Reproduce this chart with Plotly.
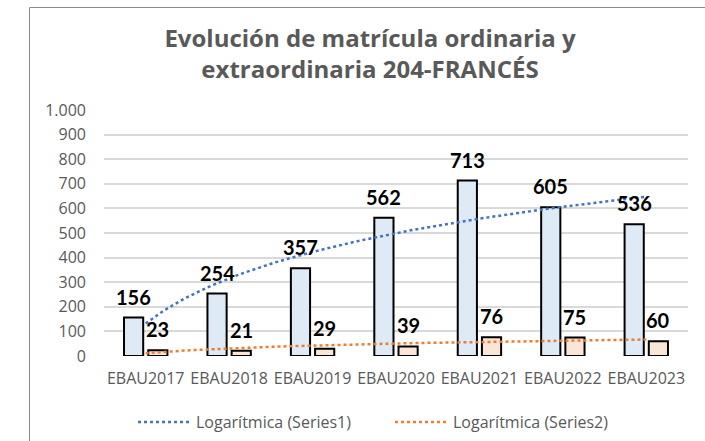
import numpy as np
import plotly.graph_objects as go

categories = ["EBAU2017", "EBAU2018", "EBAU2019", "EBAU2020", "EBAU2021", "EBAU2022", "EBAU2023"]
ordinaria = [156, 254, 357, 562, 713, 605, 536]
extraordinaria = [23, 21, 29, 39, 76, 75, 60]
y_ticks = [0, 100, 200, 300, 400, 500, 600, 700, 800, 900, 1000]

x_pos = np.arange(1, len(categories) + 1)

# Excel-style logarithmic trendlines (least squares fit of y = a*ln(x) + b)
def log_trend(values):
    a, b = np.polyfit(np.log(x_pos), np.array(values, dtype=float), 1)
    xs = np.linspace(1, len(categories), 120)
    return xs, a * np.log(xs) + b

BLUE_FILL = "#DEEBF7"
ORANGE_FILL = "#FBE5D6"
BLUE = "#4472C4"
ORANGE = "#ED7D31"
GREY = "#595959"
FONT = "Open Sans"
LABEL_FONT = "Lato"

BAR_W = 0.23
fig = go.Figure()
fig.add_trace(go.Bar(x=x_pos, y=ordinaria, width=BAR_W, offset=-0.26,
                     marker=dict(color=BLUE_FILL, line=dict(color="black", width=2)),
                     showlegend=False, hoverinfo="y"))
fig.add_trace(go.Bar(x=x_pos, y=extraordinaria, width=BAR_W, offset=0.03,
                     marker=dict(color=ORANGE_FILL, line=dict(color="black", width=2)),
                     showlegend=False, hoverinfo="y"))

tx1, ty1 = log_trend(ordinaria)
tx2, ty2 = log_trend(extraordinaria)
fig.add_trace(go.Scatter(x=tx1, y=ty1, mode="lines", name="Logarítmica (Series1)",
                         line=dict(color=BLUE, width=2.5, dash="dot")))
fig.add_trace(go.Scatter(x=tx2, y=ty2, mode="lines", name="Logarítmica (Series2)",
                         line=dict(color=ORANGE, width=2.5, dash="dot")))

# data labels
for xv, v in zip(x_pos, ordinaria):
    fig.add_annotation(x=xv - 0.26 + BAR_W / 2, y=v, text=f"<b>{v}</b>", showarrow=False,
                       yshift=21, yanchor="middle", xanchor="center",
                       font=dict(family=LABEL_FONT, size=20, color="black"))
for xv, v in zip(x_pos, extraordinaria):
    fig.add_annotation(x=xv + 0.03 + BAR_W / 2, y=v, text=f"<b>{v}</b>", showarrow=False,
                       yshift=21, yanchor="middle", xanchor="center",
                       font=dict(family=LABEL_FONT, size=20, color="black"))

L, R, T, B = 104, 17, 110, 85
W, H = 705, 441
pw, ph = W - L - R, H - T - B

def px_x(p):
    return (p - L) / pw

def px_y(p):
    return (H - B - p) / ph

# chart frame
fig.add_shape(type="rect", xref="paper", yref="paper",
              x0=px_x(29.5), x1=px_x(740), y0=px_y(470), y1=px_y(7.5),
              line=dict(color="#8c8c8c", width=1), fillcolor="rgba(0,0,0,0)", layer="below")

fig.update_layout(
    width=W, height=H,
    margin=dict(l=L, r=R, t=T, b=B, autoexpand=False),
    paper_bgcolor="white", plot_bgcolor="white",
    separators=",.",
    barmode="overlay",
    title=dict(text="<b>Evolución de matrícula ordinaria y<br>extraordinaria 204-FRANCÉS</b>",
               x=370 / W, xanchor="center", xref="container",
               y=1 - 47 / H, yanchor="middle", yref="container",
               font=dict(family=FONT, size=24, color=GREY)),
    xaxis=dict(range=[0.5, 7.5], tickvals=list(x_pos), ticktext=categories,
               showgrid=False, zeroline=False, showline=False, ticks="",
               tickfont=dict(family=FONT, size=16, color=GREY), ticklabelstandoff=11,
               fixedrange=True),
    yaxis=dict(range=[0, 1000], tickvals=y_ticks, tickformat=",d",
               showgrid=True, gridcolor="#d9d9d9", gridwidth=1.5,
               zeroline=False, showline=False, ticks="",
               tickfont=dict(family=FONT, size=16, color=GREY), ticklabelstandoff=17,
               fixedrange=True),
    legend=dict(orientation="h", x=px_x(133), xanchor="left", y=px_y(422), yanchor="middle",
                font=dict(family=FONT, size=16, color=GREY), itemwidth=53,
                entrywidth=189, entrywidthmode="pixels", bgcolor="rgba(0,0,0,0)"),
    showlegend=True,
)

fig.write_html("out.html", post_script="document.body.style.margin='0';",
               config={"displayModeBar": False})
